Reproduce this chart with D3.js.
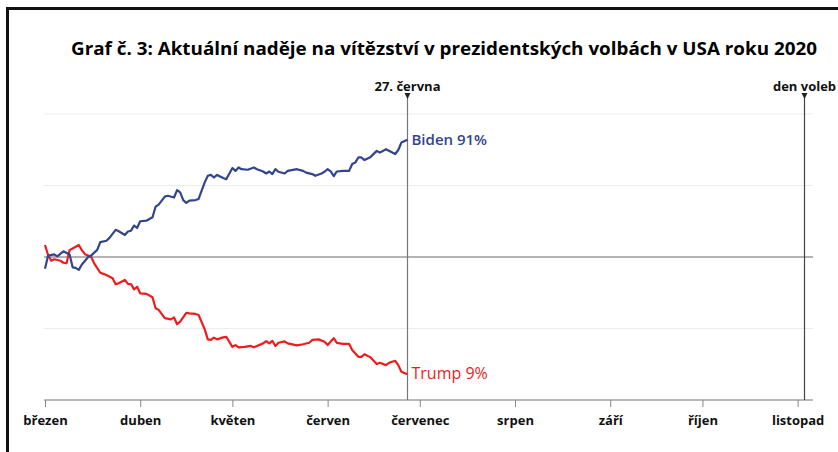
<!DOCTYPE html>
<html>
<head>
<meta charset="utf-8">
<script src="https://cdn.jsdelivr.net/npm/d3@7"></script>
<style>
  body { margin: 0; background: #fff; }
  svg { display: block; font-family: "Open Sans", "Noto Sans", sans-serif; }
</style>
</head>
<body>
<div id="chart"></div>
<script>
// Data
const months = ["březen", "duben", "květen", "červen", "červenec", "srpen", "září", "říjen", "listopad"];
const monthStarts = ["2020-03-01", "2020-04-01", "2020-05-01", "2020-06-01", "2020-07-01",
  "2020-08-01", "2020-09-01", "2020-10-01", "2020-11-01"];
const yGrid = [25, 50, 75, 100];

const bidenDates = ["03-01","03-02","03-04","03-05","03-06","03-07","03-09","03-10","03-11","03-12",
  "03-13","03-15","03-16","03-18","03-19","03-21","03-22","03-24","03-25","03-27","03-28","03-29",
  "03-30","03-31","04-01","04-03","04-05","04-06","04-07","04-09","04-10","04-12","04-13","04-14",
  "04-15","04-16","04-17","04-19","04-20","04-22","04-23","04-24","04-25","04-26","04-28","04-29",
  "05-01","05-02","05-03","05-04","05-06","05-08","05-09","05-11","05-12","05-13","05-14","05-15",
  "05-16","05-18","05-19","05-22","05-24","05-25","05-27","05-28","05-30","05-31","06-01","06-02",
  "06-03","06-04","06-06","06-08","06-09","06-10","06-11","06-12","06-13","06-15","06-17","06-18",
  "06-20","06-23","06-24","06-25","06-27"];
const bidenValues = [45.9,50.5,50.9,50.2,51.1,52.0,50.9,46.4,46.2,45.5,
  47.4,49.9,50.5,52.5,55.2,55.7,56.7,59.5,59.0,57.7,58.9,59.2,
  61.0,60.2,62.5,62.7,63.9,67.6,68.3,71.1,71.4,70.8,73.4,72.6,
  69.9,68.9,69.7,69.9,70.3,76.1,78.4,78.7,77.8,78.7,77.6,77.2,
  81.1,80.1,81.3,80.7,80.5,81.3,80.7,79.9,79.2,79.9,79.0,80.7,
  79.8,79.2,80.1,80.7,80.1,79.5,79.0,78.4,79.2,79.8,80.7,79.9,
  78.3,79.9,80.1,80.1,82.5,83.0,84.8,84.8,83.9,85.0,87.1,86.5,
  87.7,86.0,87.4,90.0,91.0];

const trumpDates = ["03-01","03-02","03-03","03-04","03-06","03-07","03-08","03-09","03-10","03-12",
  "03-13","03-14","03-16","03-17","03-19","03-20","03-21","03-23","03-24","03-25","03-27","03-28",
  "03-29","03-30","03-31","04-01","04-03","04-05","04-06","04-07","04-09","04-11","04-12","04-13",
  "04-14","04-16","04-17","04-19","04-20","04-22","04-23","04-24","04-25","04-26","04-28","04-29",
  "05-01","05-02","05-03","05-05","05-07","05-08","05-09","05-11","05-12","05-13","05-14","05-15",
  "05-16","05-18","05-19","05-22","05-24","05-26","05-27","05-29","05-31","06-01","06-03","06-04",
  "06-06","06-08","06-09","06-11","06-12","06-13","06-15","06-17","06-18","06-20","06-21","06-23",
  "06-24","06-25","06-27"];
const trumpValues = [54.2,50.7,48.7,49.2,48.7,48.0,47.8,52.4,53.0,54.2,
  52.4,51.0,50.1,47.8,44.5,44.1,43.7,42.6,40.5,40.8,42.0,40.6,
  40.5,38.7,39.6,37.3,37.1,35.9,32.1,31.5,28.6,28.2,28.9,26.5,
  27.4,30.5,30.3,30.1,29.7,24.7,21.2,21.0,21.8,21.2,21.9,22.1,
  18.6,19.2,18.4,18.6,18.9,18.4,18.9,19.8,20.6,19.8,20.7,18.9,
  20.0,20.5,19.8,19.1,19.5,20.0,21.0,21.2,20.4,19.2,21.6,20.0,
  19.6,19.6,17.5,15.1,15.1,16.0,14.9,12.6,13.0,12.2,13.0,13.7,
  12.2,9.9,9.0];

const markers = [
  { date: "2020-06-27", label: "27. června", color: "#777" },
  { date: "2020-11-03", label: "den voleb", color: "#444" },
];

// Dimensions
const width = 838, height = 452;
const parseDate = d3.utcParse("%Y-%m-%d");
const toSeries = (dates, values) => dates.map((d, i) => ({ date: parseDate("2020-" + d), value: values[i] }));
const biden = toSeries(bidenDates, bidenValues);
const trump = toSeries(trumpDates, trumpValues);

const svg = d3.select("#chart").append("svg")
  .attr("width", width)
  .attr("height", height);

// Scales
const xScale = d3.scaleUtc()
  .domain([parseDate("2020-03-01"), parseDate("2020-11-06")])
  .range([45, 813]);
const yScale = d3.scaleLinear().domain([0, 100]).range([400, 114]);

// Frame
svg.append("path")
  .attr("d", `M7.5,${height} V8.5 H${width}`)
  .attr("fill", "none")
  .attr("stroke", "#111")
  .attr("stroke-width", 3);

// Title
svg.append("text")
  .attr("x", 444)
  .attr("y", 55)
  .attr("text-anchor", "middle")
  .attr("font-size", 18)
  .attr("font-weight", 700)
  .attr("textLength", 746)
  .attr("lengthAdjust", "spacingAndGlyphs")
  .text("Graf č. 3: Aktuální naděje na vítězství v prezidentských volbách v USA roku 2020");

// Gridlines
svg.append("g").selectAll("line")
  .data(yGrid)
  .join("line")
  .attr("x1", xScale.range()[0] - 1)
  .attr("x2", xScale.range()[1])
  .attr("y1", (d) => yScale(d))
  .attr("y2", (d) => yScale(d))
  .attr("stroke", (d) => (d === 50 ? "#9a9a9a" : "#ececec"))
  .attr("stroke-width", (d) => (d === 50 ? 1.5 : 1));

// Axis
const xAxis = d3.axisBottom(xScale)
  .tickValues(monthStarts.map(parseDate))
  .tickFormat((d, i) => months[i])
  .tickSize(7)
  .tickPadding(9);

const axisG = svg.append("g")
  .attr("transform", `translate(0, 400)`)
  .call(xAxis);
axisG.select(".domain").remove();
axisG.selectAll(".tick line").attr("stroke", "#888");
axisG.selectAll(".tick text")
  .attr("fill", "#111")
  .attr("font-size", 13)
  .attr("font-weight", 700)
  .attr("font-family", "\"Open Sans\", sans-serif");
axisG.append("line")
  .attr("x1", xScale.range()[0] - 1)
  .attr("x2", xScale.range()[1])
  .attr("stroke", "#777")
  .attr("stroke-width", 1.2);

// Markers
markers.forEach((m) => {
  const x = Math.round(xScale(parseDate(m.date))) + 0.5;
  svg.append("line")
    .attr("x1", x).attr("x2", x)
    .attr("y1", 97).attr("y2", 400)
    .attr("stroke", m.color)
    .attr("stroke-width", 1.2);
  svg.append("path")
    .attr("d", `M${x - 3},93 L${x + 3},93 L${x},99 Z`)
    .attr("fill", "#222");
  svg.append("text")
    .attr("x", x)
    .attr("y", 91)
    .attr("text-anchor", "middle")
    .attr("font-size", 13)
    .attr("font-weight", 700)
    .attr("fill", "#111")
    .text(m.label);
});

// Lines
const lineGenerator = d3.line()
  .x((d) => xScale(d.date))
  .y((d) => yScale(d.value));

svg.append("path")
  .datum(trump)
  .attr("d", lineGenerator)
  .attr("fill", "none")
  .attr("stroke", "#ee1c1c")
  .attr("stroke-width", 2.2)
  .attr("stroke-linejoin", "round");

svg.append("path")
  .datum(biden)
  .attr("d", lineGenerator)
  .attr("fill", "none")
  .attr("stroke", "#33448f")
  .attr("stroke-width", 2.2)
  .attr("stroke-linejoin", "round");

// End labels
const lastB = biden[biden.length - 1];
const lastT = trump[trump.length - 1];
svg.append("text")
  .attr("x", xScale(lastB.date) + 4)
  .attr("y", yScale(lastB.value) + 5)
  .attr("font-size", 15)
  .attr("font-weight", 600)
  .attr("fill", "#33448f")
  .text(`Biden ${Math.round(lastB.value)}%`);
svg.append("text")
  .attr("x", xScale(lastT.date) + 4)
  .attr("y", yScale(lastT.value) + 5)
  .attr("font-size", 16)
  .attr("font-weight", 400)
  .attr("fill", "#ee1c1c")
  .text(`Trump ${Math.round(lastT.value)}%`);
</script>
</body>
</html>
